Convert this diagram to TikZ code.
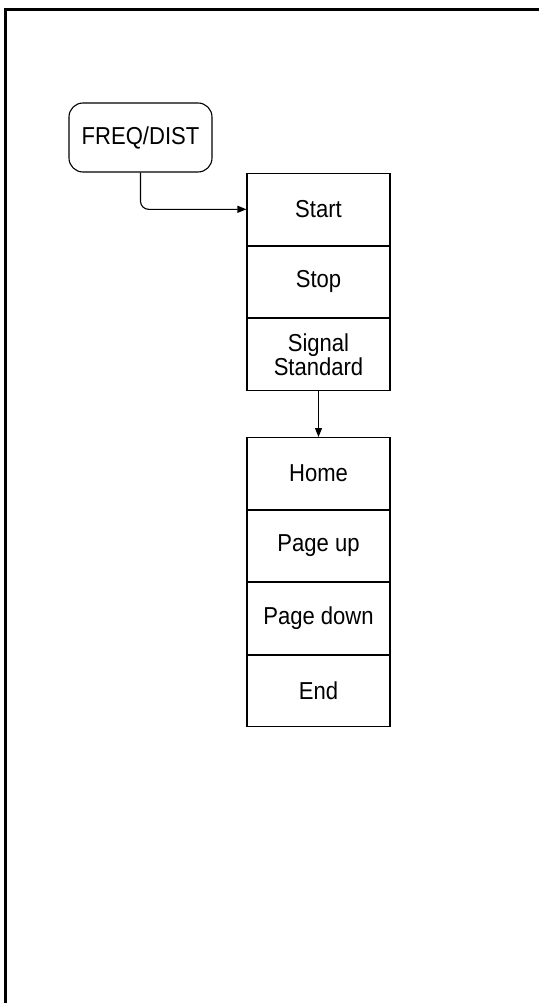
\documentclass[tikz,border=0pt]{standalone}
\usepackage{fontspec}
\setmainfont{Liberation Sans}[FakeStretch=0.9]
\usetikzlibrary{arrows.meta}
\begin{document}
\begin{tikzpicture}[x=1pt,y=-1pt,
  every node/.style={font=\fontsize{24.5}{24}\selectfont},
  menubox/.style={draw,line width=1.1pt,minimum width=143pt,minimum height=71.5pt,inner sep=0pt,align=center,anchor=north},
  keybox/.style={draw,line width=1.1pt,rounded corners=14pt,minimum width=143pt,minimum height=69pt,inner sep=0pt},
  link/.style={line width=1.1pt,-{Triangle[length=9pt,width=7pt]}}]
\useasboundingbox (0,0) rectangle (539,1003);
\draw[line width=3pt] (5.5,1003) -- (5.5,9.5) -- (539,9.5);
\node[keybox] (freq) at (140.5,137.5) {FREQ/DIST};
\node[menubox] (start) at (318.5,173) {Start};
\node[menubox] (stop) at (start.south) {Stop};
\node[menubox] (sig) at (stop.south) {Signal\\Standard};
\node[menubox] (home) at (318.5,437) {Home};
\node[menubox] (pgup) at (home.south) {Page up};
\node[menubox] (pgdn) at (pgup.south) {Page down};
\node[menubox] (end) at (pgdn.south) {End};
\draw[link,rounded corners=8pt] (freq.south) |- (start.west);
\draw[link] (sig.south) -- (home.north);
\end{tikzpicture}
\end{document}
